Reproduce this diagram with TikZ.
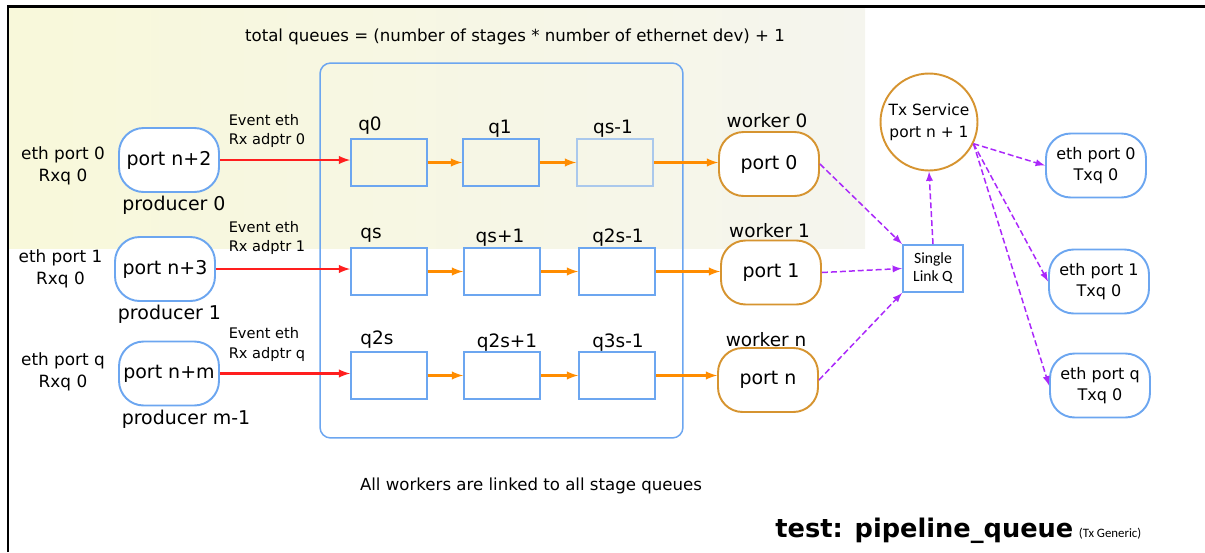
\documentclass[tikz,border=0pt]{standalone}
\usepackage{fontspec}
\setmainfont{DejaVu Sans}
\newfontfamily\carlito{Carlito}
\usepackage{xcolor}
\usepackage{tikz}
\usetikzlibrary{shapes.geometric, arrows, positioning}
\definecolor{portcolor}{RGB}{108, 166, 240}
\definecolor{fadecolor}{RGB}{170, 200, 236}
\definecolor{workercolor}{RGB}{214, 148, 48}
\definecolor{rxcolor}{RGB}{255, 30, 30}
\definecolor{stagecolor}{RGB}{255, 140, 0}
\definecolor{txcolor}{RGB}{170, 40, 250}
\definecolor{bgleft}{RGB}{248, 248, 218}
\definecolor{bgright}{RGB}{245, 245, 238}
\newcommand{\fsz}[2]{\fontsize{#1}{#2}\selectfont}
\tikzstyle{portbox} = [rectangle, rounded corners=14pt, minimum width=2cm, minimum height=1.28cm, inner sep=0pt, text centered, draw=portcolor, fill=white, line width=1.1pt, font=\fsz{10.8}{13}]
\tikzstyle{workerbox} = [portbox, draw=workercolor]
\tikzstyle{ethtx} = [portbox, align=center, font=\fsz{9.1}{12}]
\tikzstyle{queuebox} = [rectangle, minimum width=1.52cm, minimum height=0.94cm, inner sep=0pt, draw=portcolor, line width=1.1pt]
\tikzstyle{qlabel} = [inner sep=0pt, font=\fsz{10.5}{12}]
\tikzstyle{ethrx} = [inner sep=0pt, align=center, font=\fsz{9.6}{12.5}]
\tikzstyle{adptr} = [inner sep=0pt, align=left, font=\fsz{8.3}{11.3}]
\tikzstyle{rxarrow} = [draw=rxcolor, line width=1.2pt, ->, >=latex]
\tikzstyle{stagearrow} = [draw=stagecolor, line width=1.2pt, ->, >=latex]
\tikzstyle{txarrow} = [draw=txcolor, line width=0.85pt, dash pattern=on 3.4pt off 1.7pt, ->, >=latex]

\begin{document}
\begin{tikzpicture}[x=0.02cm, y=-0.02cm]
\useasboundingbox (0,0) rectangle (1205,552);

% Fond et cadre
\fill[left color=bgleft, right color=bgright] (8,7) rectangle (865,248);
\draw[line width=1.7pt] (8,552) -- (8,6.5) -- (1205,6.5);
\node[font=\fsz{9.45}{11}] (total) at (515,37) {total queues = (number of stages * number of ethernet dev) + 1};

% Etages
\node (stages) [rectangle, rounded corners=6pt, draw=portcolor, line width=0.85pt, minimum width=7.26cm, minimum height=7.5cm] at (501.5,250.5) {};
\node (q0) [queuebox] at (389,162.5) {};
\node (q1) [queuebox] at (501,162.5) {};
\node (qs1) [queuebox, draw=fadecolor] at (615,162.5) {};
\node (qs) [queuebox] at (389,271.5) {};
\node (qsp1) [queuebox] at (502,271.5) {};
\node (q2s1) [queuebox] at (617,271.5) {};
\node (q2s) [queuebox] at (389,375.5) {};
\node (q2sp1) [queuebox] at (502,375.5) {};
\node (q3s1) [queuebox] at (617,375.5) {};

\node (lq0) [qlabel] at (370,125.5) {q0};
\node (lq1) [qlabel] at (500,129) {q1};
\node (lqs1) [qlabel] at (613,129) {qs-1};
\node (lqs) [qlabel] at (371,235) {qs};
\node (lqsp1) [qlabel] at (500,237.5) {qs+1};
\node (lq2s1) [qlabel] at (618,238) {q2s-1};
\node (lq2s) [qlabel] at (377,339.5) {q2s};
\node (lq2sp1) [qlabel] at (507,342.5) {q2s+1};
\node (lq3s1) [qlabel] at (618,342.5) {q3s-1};

% Producteurs
\node (prod0) [portbox] at (169,160) {port n+2};
\node (prod1) [portbox] at (165,269) {port n+3};
\node (prodm) [portbox] at (169,373.5) {port n+m};
\node (lprod0) [inner sep=0pt, font=\fsz{10.8}{13}] at (174,205) {producer 0};
\node (lprod1) [inner sep=0pt, font=\fsz{10.8}{13}] at (169.5,314) {producer 1};
\node (lprodm) [inner sep=0pt, font=\fsz{10.8}{13}] at (186,419.5) {producer m-1};
\node (rx0) [ethrx] at (63,166) {eth port 0\\Rxq 0};
\node (rx1) [ethrx] at (60.5,269) {eth port 1\\Rxq 0};
\node (rxq) [ethrx] at (63,372) {eth port q\\Rxq 0};
\node (ad0) [adptr] at (267,131) {Event eth\\Rx adptr 0};
\node (ad1) [adptr] at (267,238) {Event eth\\Rx adptr 1};
\node (adq) [adptr] at (267,344.5) {Event eth\\Rx adptr q};

% Workers
\node (worker0) [workerbox] at (769,164) {port 0};
\node (worker1) [workerbox] at (771,272.5) {port 1};
\node (workern) [workerbox] at (768,380) {port n};
\node (lworker0) [qlabel] at (767,120.5) {worker 0};
\node (lworker1) [qlabel] at (769.5,230.5) {worker 1};
\node (lworkern) [qlabel] at (766,339.5) {worker n};

% Tx
\node (slq) [rectangle, draw=portcolor, line width=1.1pt, minimum width=1.2cm, minimum height=0.94cm, inner sep=0pt, align=center, font=\carlito\fsz{8.9}{10.2}] at (933,268.5) {Single\\Link Q};
\node (txsvc) [circle, draw=workercolor, line width=1.1pt, minimum size=1.94cm, inner sep=0pt, align=center, font=\fsz{8.8}{12.5}] at (929,122) {Tx Service\\port n + 1};
\node (ethtx0) [ethtx] at (1096,165.5) {eth port 0\\Txq 0};
\node (ethtx1) [ethtx] at (1099,281.5) {eth port 1\\Txq 0};
\node (ethtxq) [ethtx] at (1100,385.5) {eth port q\\Txq 0};

% Fleches
\draw [rxarrow] (prod0) -- (prod0 -| q0.west);
\draw [rxarrow] (prod1) -- (prod1 -| qs.west);
\draw [rxarrow] (prodm) -- (prodm -| q2s.west);
\draw [stagearrow] (q0) -- (q1);
\draw [stagearrow] (q1) -- (qs1);
\draw [stagearrow] (qs) -- (qsp1);
\draw [stagearrow] (qsp1) -- (q2s1);
\draw [stagearrow] (q2s) -- (q2sp1);
\draw [stagearrow] (q2sp1) -- (q3s1);
\draw [stagearrow] (qs1) -- (qs1 -| worker0.west);
\draw [stagearrow] (q2s1) -- (q2s1 -| worker1.west);
\draw [stagearrow] (q3s1) -- (q3s1 -| workern.west);
\draw [txarrow] (worker0.east) -- (slq.north west);
\draw [txarrow] (worker1.east) -- (slq.west);
\draw [txarrow] (workern.east) -- (slq.south west);
\draw [txarrow] (slq.north) -- (txsvc.south);
\draw [txarrow] (txsvc.-26) -- (ethtx0.west);
\draw [txarrow] (txsvc.-26) -- (ethtx1.west);
\draw [txarrow] (txsvc.-26) -- (ethtxq.west);

% Legendes
\node (linked) [font=\fsz{9.45}{11}] at (531,486) {All workers are linked to all stage queues};
\node (testname) [anchor=base west, inner sep=0pt] at (775,537) {{\bfseries\fsz{14.6}{16}test: pipeline\_queue} {\carlito\fsz{7.3}{9}(Tx Generic)}};

\end{tikzpicture}
\end{document}
